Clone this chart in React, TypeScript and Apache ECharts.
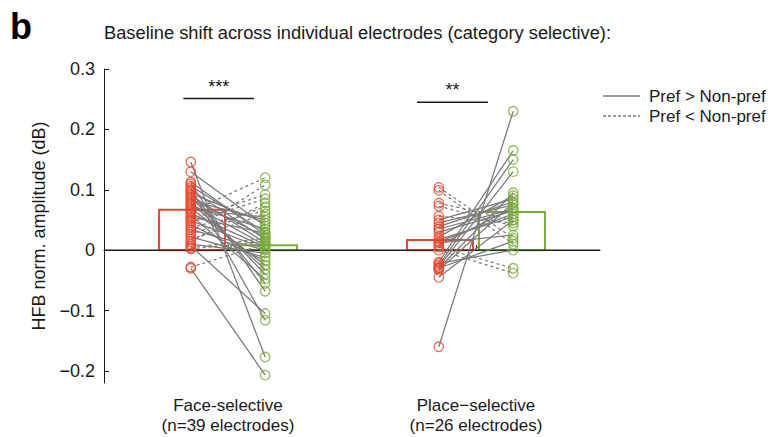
import React, { useEffect, useRef } from 'react';
import * as echarts from 'echarts';

// ---- data ----
const CATEGORIES = ['Face-selective\n(n=39 electrodes)', 'Place\u2212selective\n(n=26 electrodes)'];
const Y_TICKS = [-0.2, -0.1, 0, 0.1, 0.2, 0.3];

// Face-selective electrodes: amplitude for face (red) and place (green) condition
const FACE_RED = [
  0.146, 0.130, 0.113, 0.110, 0.106, 0.103, 0.100, 0.097, 0.094, 0.091,
  0.088, 0.085, 0.082, 0.079, 0.076, 0.073, 0.070, 0.067, 0.064, 0.061,
  0.058, 0.055, 0.052, 0.049, 0.046, 0.042, 0.038, 0.034, 0.030, 0.026,
  0.022, 0.018, 0.014, 0.010, 0.007, 0.004, 0.002, -0.028, -0.030,
];
const FACE_GREEN = [
  -0.177, 0.040, 0.025, -0.068, 0.030, -0.116, 0.018, -0.055, 0.045, 0.012,
  -0.040, 0.022, 0.050, -0.032, 0.008, 0.035, -0.025, 0.055, 0.120, 0.005,
  -0.048, 0.028, 0.092, 0.002, 0.085, -0.018, 0.065, 0.000, 0.108, 0.072,
  -0.012, 0.060, 0.078, -0.005, -0.105, 0.020, 0.015, 0.010, -0.207,
];
// Place-selective electrodes
const PLACE_RED = [
  -0.160, 0.104, 0.099, 0.078, 0.073, 0.056, 0.050, 0.045, 0.039, 0.030,
  0.022, 0.014, 0.008, 0.005, 0.000, -0.020, -0.025, -0.028, -0.030, -0.033,
  -0.045, -0.022, 0.018, -0.030, 0.035, 0.012,
];
const PLACE_GREEN = [
  0.230, 0.020, 0.010, 0.050, 0.040, 0.045, 0.085, 0.075, 0.080, 0.065,
  0.090, 0.060, 0.070, -0.030, -0.038, 0.165, 0.150, 0.130, 0.095, 0.078,
  0.050, 0.000, 0.055, 0.015, 0.068, 0.025,
];
// bar heights (means) [red, green]
const FACE_MEANS = [0.067, 0.008];
const PLACE_MEANS = [0.017, 0.063];
const SIG_STARS = ['***', '**'];
const SIG_LEVELS = [0.251, 0.245];
const LEGEND_LABELS = ['Pref > Non-pref', 'Pref < Non-pref'];
const TITLE = 'Baseline shift across individual electrodes (category selective):';
const Y_NAME = 'HFB norm. amplitude (dB)';

// ---- styling ----
const RED = '#E8462B';
const GREEN = '#79AD3A';
const GRAY = '#7a7a7a';
const INK = '#1a1a1a';
const FONT = '"Liberation Sans", Arial, Helvetica, sans-serif';
const DOT_OFF = 0.15;
const BAR_OFF = 0.145;
const BAR_HALF = 0.133;

function fmtTick(v: number): string {
  if (Math.abs(v) < 1e-9) return '0';
  const s = Math.abs(v).toFixed(1);
  return v < 0 ? '\u2212' + s : s;
}

export default function App() {
  const ref = useRef<HTMLDivElement | null>(null);

  useEffect(() => {
    if (!ref.current) return;
    const chart = echarts.init(ref.current, null, { renderer: 'svg' });

    const pairLines: any[] = [];
    FACE_RED.forEach((r, i) => {
      const g = FACE_GREEN[i];
      pairLines.push([1 - DOT_OFF, r, 1 + DOT_OFF, g, r >= g ? 0 : 1]);
    });
    PLACE_RED.forEach((r, i) => {
      const g = PLACE_GREEN[i];
      pairLines.push([2 - DOT_OFF, r, 2 + DOT_OFF, g, g >= r ? 0 : 1]);
    });

    const bars = [
      [1 - BAR_OFF, FACE_MEANS[0], 0],
      [1 + BAR_OFF, FACE_MEANS[1], 1],
      [2 - BAR_OFF, PLACE_MEANS[0], 0],
      [2 + BAR_OFF, PLACE_MEANS[1], 1],
    ];

    const redDots = [
      ...FACE_RED.map((v) => [1 - DOT_OFF, v]),
      ...PLACE_RED.map((v) => [2 - DOT_OFF, v]),
    ];
    const greenDots = [
      ...FACE_GREEN.map((v) => [1 + DOT_OFF, v]),
      ...PLACE_GREEN.map((v) => [2 + DOT_OFF, v]),
    ];

    const sigData = [
      [0.82, 1.105, SIG_LEVELS[0], 0],
      [1.762, 2.048, SIG_LEVELS[1], 1],
    ];

    const option: any = {
      animation: false,
      backgroundColor: '#ffffff',
      grid: { left: 104, right: 181, top: 69, bottom: 54, containLabel: false },
      xAxis: [
        {
          type: 'category',
          data: CATEGORIES,
          position: 'bottom',
          axisLine: { show: true, lineStyle: { color: INK, width: 1 } },
          axisTick: { show: true, inside: true, alignWithLabel: true, length: 5, lineStyle: { color: INK } },
          axisLabel: {
            color: INK,
            fontFamily: FONT,
            fontSize: 17,
            lineHeight: 20,
            margin: 12,
          },
          splitLine: { show: false },
        },
        { type: 'value', min: 0.5, max: 2.5, show: false },
      ],
      yAxis: {
        type: 'value',
        min: -0.22,
        max: 0.3,
        name: Y_NAME,
        nameLocation: 'middle',
        nameGap: 56,
        nameTextStyle: { color: INK, fontFamily: FONT, fontSize: 18 },
        axisLine: { show: true, lineStyle: { color: INK, width: 1 } },
        axisTick: { show: true, inside: true, length: 5, customValues: Y_TICKS, lineStyle: { color: INK } },
        axisLabel: {
          customValues: Y_TICKS,
          formatter: (v: number) => fmtTick(v),
          color: INK,
          fontFamily: FONT,
          fontSize: 18,
          margin: 9,
        },
        splitLine: { show: false },
      },
      graphic: [
        { type: 'text', left: 10, top: 8, style: { text: 'b', fontFamily: FONT, fontSize: 36, fontWeight: 'bold', fill: '#000' } },
        { type: 'text', left: 104, top: 23, style: { text: TITLE, fontFamily: FONT, fontSize: 18.3, fill: INK } },
        { type: 'line', shape: { x1: 603, y1: 96, x2: 640, y2: 96 }, style: { stroke: GRAY, lineWidth: 1.6 } },
        { type: 'line', shape: { x1: 603, y1: 116, x2: 640, y2: 116 }, style: { stroke: GRAY, lineWidth: 1.6, lineDash: [3, 2] } },
        { type: 'text', x: 649, y: 96, style: { text: LEGEND_LABELS[0], fontFamily: FONT, fontSize: 17, fill: INK, verticalAlign: 'middle' } },
        { type: 'text', x: 649, y: 116, style: { text: LEGEND_LABELS[1], fontFamily: FONT, fontSize: 17, fill: INK, verticalAlign: 'middle' } },
      ],
      series: [
        {
          type: 'custom',
          name: 'bars',
          xAxisIndex: 1,
          z: 1,
          data: bars,
          encode: { x: 0, y: 1 },
          renderItem: (params: any, api: any) => {
            const x = api.value(0);
            const y = api.value(1);
            const c = api.value(2);
            const p1 = api.coord([x - BAR_HALF, y]);
            const p2 = api.coord([x + BAR_HALF, 0]);
            return {
              type: 'rect',
              shape: { x: p1[0], y: Math.min(p1[1], p2[1]), width: p2[0] - p1[0], height: Math.abs(p2[1] - p1[1]) },
              style: { fill: 'none', stroke: c === 0 ? RED : GREEN, lineWidth: 2 },
            };
          },
        },
        {
          type: 'custom',
          name: 'zero',
          xAxisIndex: 1,
          z: 2,
          data: [[0.5, 0, 2.5, 0]],
          encode: { x: [0, 2], y: [1, 3] },
          renderItem: (params: any, api: any) => {
            const a = api.coord([api.value(0), api.value(1)]);
            const b = api.coord([api.value(2), api.value(3)]);
            return { type: 'line', shape: { x1: a[0], y1: a[1], x2: b[0], y2: b[1] }, style: { stroke: INK, lineWidth: 1.2 } };
          },
        },
        {
          type: 'custom',
          name: 'pairs',
          xAxisIndex: 1,
          z: 3,
          data: pairLines,
          encode: { x: [0, 2], y: [1, 3] },
          renderItem: (params: any, api: any) => {
            const a = api.coord([api.value(0), api.value(1)]);
            const b = api.coord([api.value(2), api.value(3)]);
            const dashed = api.value(4) === 1;
            return {
              type: 'line',
              shape: { x1: a[0], y1: a[1], x2: b[0], y2: b[1] },
              style: { stroke: GRAY, lineWidth: 1.25, lineDash: dashed ? [3, 3] : null },
            };
          },
        },
        {
          type: 'scatter',
          name: 'red',
          xAxisIndex: 1,
          z: 4,
          symbol: 'circle',
          symbolSize: 9.5,
          data: redDots,
          itemStyle: { color: 'rgba(0,0,0,0)', borderColor: RED, borderWidth: 1.3 },
        },
        {
          type: 'scatter',
          name: 'green',
          xAxisIndex: 1,
          z: 4,
          symbol: 'circle',
          symbolSize: 9.5,
          data: greenDots,
          itemStyle: { color: 'rgba(0,0,0,0)', borderColor: GREEN, borderWidth: 1.3 },
        },
        {
          type: 'custom',
          name: 'sig',
          xAxisIndex: 1,
          z: 5,
          data: sigData,
          encode: { x: [0, 1], y: 2 },
          renderItem: (params: any, api: any) => {
            const a = api.coord([api.value(0), api.value(2)]);
            const b = api.coord([api.value(1), api.value(2)]);
            const idx = api.value(3);
            return {
              type: 'group',
              children: [
                { type: 'line', shape: { x1: a[0], y1: a[1], x2: b[0], y2: b[1] }, style: { stroke: INK, lineWidth: 1.5 } },
                {
                  type: 'text',
                  x: (a[0] + b[0]) / 2,
                  y: a[1] - 3,
                  style: { text: SIG_STARS[idx], fontFamily: FONT, fontSize: 18, fill: INK, align: 'center', verticalAlign: 'bottom' },
                },
              ],
            };
          },
        },
      ],
    };

    chart.setOption(option);
    return () => chart.dispose();
  }, []);

  return <div ref={ref} style={{ position: 'fixed', left: 0, top: 0, width: 781, height: 437, background: '#fff' }} />;
}
